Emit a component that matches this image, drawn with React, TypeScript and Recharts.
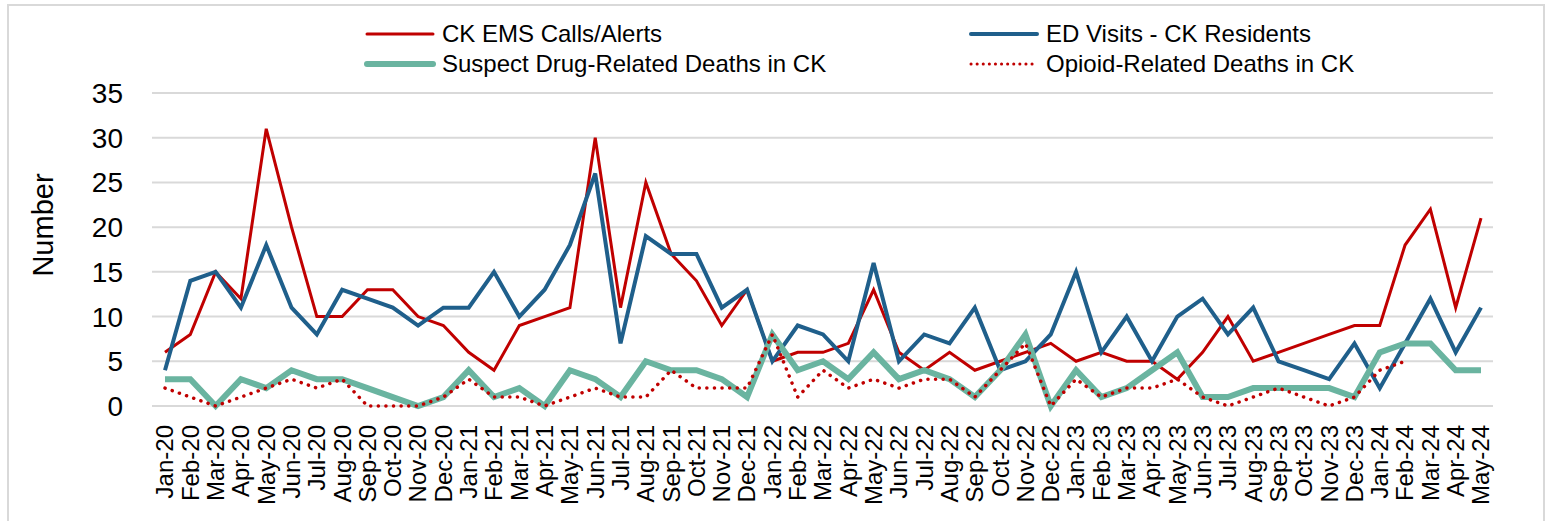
import React from "react";
import { CartesianGrid, Label, Line, LineChart, XAxis, YAxis } from "recharts";

const months = [
  "Jan-20", "Feb-20", "Mar-20", "Apr-20", "May-20", "Jun-20", "Jul-20", "Aug-20", "Sep-20", "Oct-20", "Nov-20", "Dec-20",
  "Jan-21", "Feb-21", "Mar-21", "Apr-21", "May-21", "Jun-21", "Jul-21", "Aug-21", "Sep-21", "Oct-21", "Nov-21", "Dec-21",
  "Jan-22", "Feb-22", "Mar-22", "Apr-22", "May-22", "Jun-22", "Jul-22", "Aug-22", "Sep-22", "Oct-22", "Nov-22", "Dec-22",
  "Jan-23", "Feb-23", "Mar-23", "Apr-23", "May-23", "Jun-23", "Jul-23", "Aug-23", "Sep-23", "Oct-23", "Nov-23", "Dec-23",
  "Jan-24", "Feb-24", "Mar-24", "Apr-24", "May-24",
];

const emsCalls = [
  6, 8, 15, 12, 31, 20, 10, 10, 13, 13, 10, 9,
  6, 4, 9, 10, 11, 30, 11, 25, 17, 14, 9, 13,
  5, 6, 6, 7, 13, 6, 4, 6, 4, 5, 6, 7,
  5, 6, 5, 5, 3, 6, 10, 5, 6, 7, 8, 9,
  9, 18, 22, 11, 21,
];

const edVisits = [
  4, 14, 15, 11, 18, 11, 8, 13, 12, 11, 9, 11,
  11, 15, 10, 13, 18, 26, 7, 19, 17, 17, 11, 13,
  5, 9, 8, 5, 16, 5, 8, 7, 11, 4, 5, 8,
  15, 6, 10, 5, 10, 12, 8, 11, 5, 4, 3, 7,
  2, 7, 12, 6, 11,
];

const suspectDeaths = [
  3, 3, 0, 3, 2, 4, 3, 3, 2, 1, 0, 1,
  4, 1, 2, 0, 4, 3, 1, 5, 4, 4, 3, 1,
  8, 4, 5, 3, 6, 3, 4, 3, 1, 4, 8, 0,
  4, 1, 2, 4, 6, 1, 1, 2, 2, 2, 2, 1,
  6, 7, 7, 4, 4,
];

const opioidDeaths = [
  2, 1, 0, 1, 2, 3, 2, 3, 0, 0, 0, 1,
  3, 1, 1, 0, 1, 2, 1, 1, 4, 2, 2, 2,
  8, 1, 4, 2, 3, 2, 3, 3, 1, 4, 7, 0,
  3, 1, 2, 2, 3, 1, 0, 1, 2, 1, 0, 1,
  4, 5, null, null, null,
];

const yTicks = [0, 5, 10, 15, 20, 25, 30, 35];

const data = months.map((month, i) => ({
  month,
  ems: emsCalls[i],
  ed: edVisits[i],
  suspect: suspectDeaths[i],
  opioid: opioidDeaths[i],
}));

const RED = "#C00000";
const BLUE = "#1F5F8B";
const GREEN = "#6AB4A0";
const FONT = "'Liberation Sans', Arial, sans-serif";

const MonthTick = ({ x, y, payload }: any) => (
  <text
    transform={`translate(${x},${y}) rotate(-90)`}
    textAnchor="end"
    dy="0.35em"
    fontSize={24}
    fontFamily={FONT}
    fill="#000"
  >
    {payload.value}
  </text>
);

const LegendItem = ({ left, top, color, width, dash, label }: any) => (
  <div style={{ position: "absolute", left, top, display: "flex", alignItems: "center" }}>
    <svg width={72} height={12} style={{ marginRight: 6 }}>
      <line
        x1={3}
        y1={6}
        x2={69}
        y2={6}
        stroke={color}
        strokeWidth={width}
        strokeDasharray={dash}
        strokeLinecap="round"
      />
    </svg>
    <span style={{ fontFamily: FONT, fontSize: 24, color: "#000", whiteSpace: "nowrap" }}>{label}</span>
  </div>
);

export default function App() {
  return (
    <div
      style={{
        position: "absolute",
        left: 0,
        top: 0,
        width: 1546,
        height: 521,
        overflow: "hidden",
        background: "#fff",
      }}
    >
      <div
        style={{
          position: "absolute",
          left: 7,
          top: 4,
          width: 1534,
          height: 540,
          border: "2px solid #d9d9d9",
        }}
      />
      <LegendItem left={364} top={20} color={RED} width={3} label="CK EMS Calls/Alerts" />
      <LegendItem left={968} top={20} color={BLUE} width={4} label="ED Visits - CK Residents" />
      <LegendItem left={364} top={50} color={GREEN} width={6} label="Suspect Drug-Related Deaths in CK" />
      <LegendItem left={968} top={50} color={RED} width={3} dash="0.1 6" label="Opioid-Related Deaths in CK" />
      <div style={{ position: "absolute", left: 0, top: 0 }}>
        <LineChart
          width={1546}
          height={521}
          data={data}
          margin={{ top: 93, right: 53, bottom: 0, left: 0 }}
        >
          <CartesianGrid vertical={false} stroke="#d9d9d9" strokeWidth={2} />
          <XAxis
            dataKey="month"
            interval={0}
            height={115}
            tickLine={false}
            axisLine={false}
            tickSize={0}
            tickMargin={19}
            padding={{ left: 13, right: 12 }}
            tick={<MonthTick />}
          />
          <YAxis
            width={152}
            domain={[0, 35]}
            ticks={yTicks}
            interval={0}
            tickLine={false}
            axisLine={false}
            tickSize={0}
            tickMargin={29}
            tick={{ fontSize: 28, fontFamily: FONT, fill: "#000" }}
          >
            <Label
              content={() => (
                <text
                  transform="translate(53,225) rotate(-90)"
                  textAnchor="middle"
                  fontSize={29}
                  fontFamily={FONT}
                  fill="#000"
                >
                  Number
                </text>
              )}
            />
          </YAxis>
          <Line
            type="linear"
            dataKey="ems"
            stroke={RED}
            strokeWidth={3}
            dot={false}
            activeDot={false}
            isAnimationActive={false}
          />
          <Line
            type="linear"
            dataKey="ed"
            stroke={BLUE}
            strokeWidth={4}
            dot={false}
            activeDot={false}
            isAnimationActive={false}
          />
          <Line
            type="linear"
            dataKey="suspect"
            stroke={GREEN}
            strokeWidth={6}
            dot={false}
            activeDot={false}
            isAnimationActive={false}
          />
          <Line
            type="linear"
            dataKey="opioid"
            stroke={RED}
            strokeWidth={3.5}
            strokeDasharray="0.1 7.5"
            strokeLinecap="round"
            dot={false}
            activeDot={false}
            isAnimationActive={false}
          />
        </LineChart>
      </div>
    </div>
  );
}
